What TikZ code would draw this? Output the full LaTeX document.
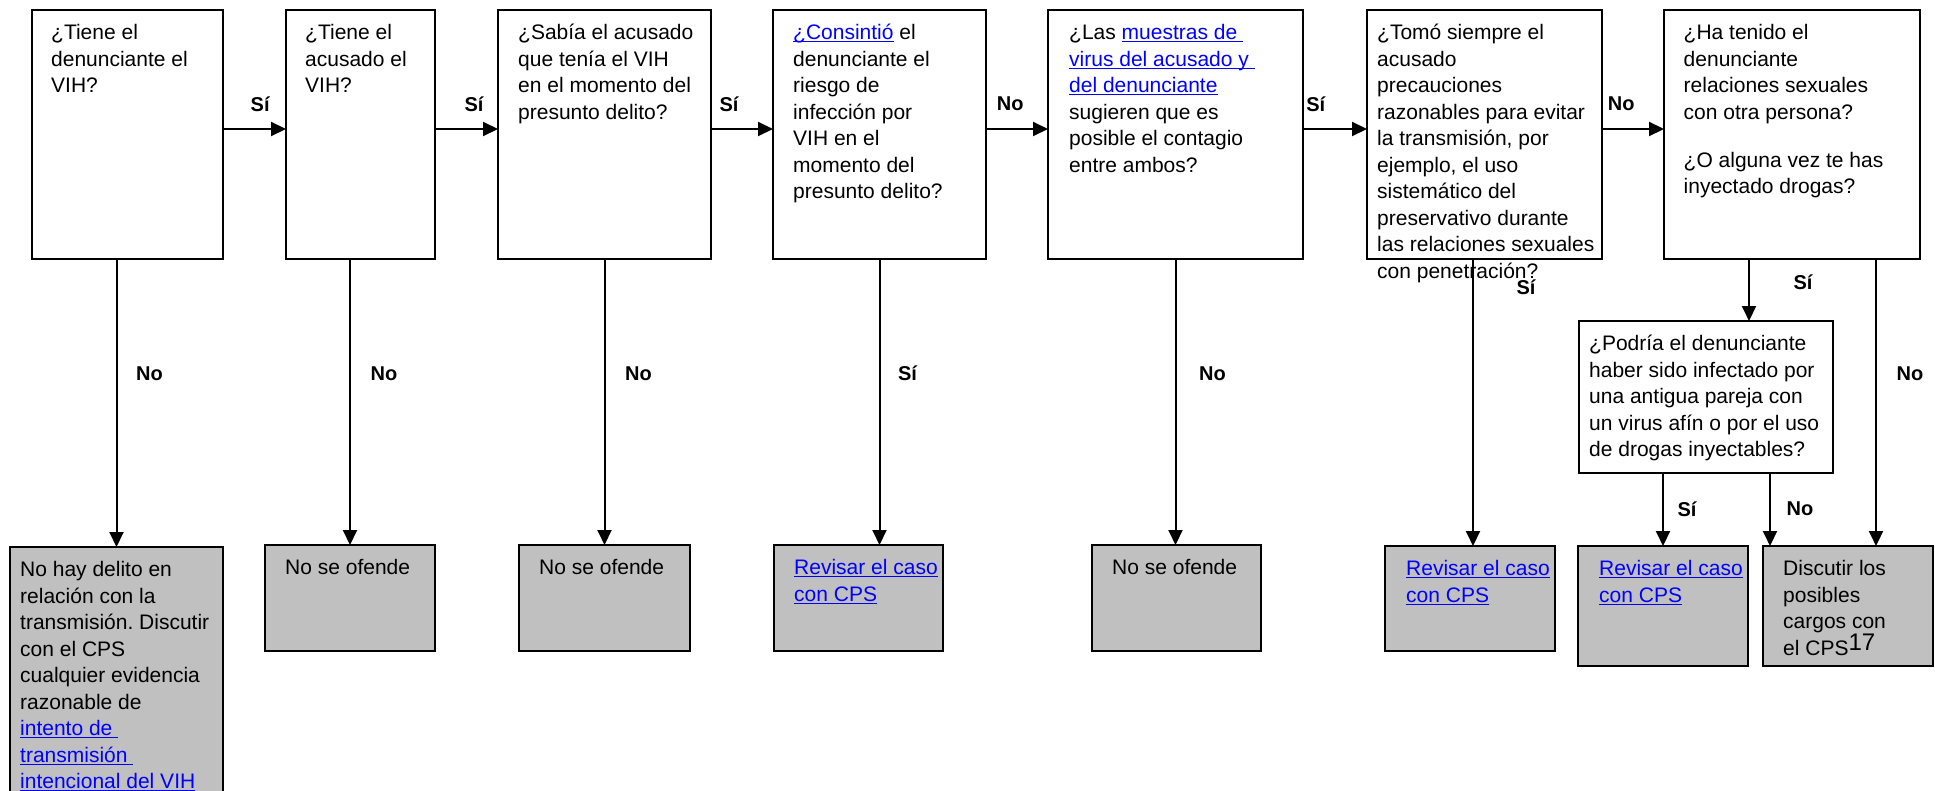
\documentclass[tikz,border=0pt]{standalone}
\usepackage{fontspec}
\setmainfont{Liberation Sans}
\usetikzlibrary{arrows.meta,calc}
\frenchspacing
\definecolor{linkblue}{RGB}{0,0,255}
\definecolor{boxgray}{RGB}{192,192,192}
\newcommand{\lnk}[1]{{\color{linkblue}\setbox0=\hbox{#1}\rlap{\rule[-2.6pt]{\wd0}{1.3pt}}\box0}}
\newcommand{\st}{\rule{0pt}{18pt}}
\begin{document}
\begin{tikzpicture}[x=1pt,y=-1pt,
  qbox/.style={draw, line width=2pt, fill=white, inner sep=0pt, outer sep=0pt, anchor=north west},
  ebox/.style={draw, line width=2.3pt, fill=boxgray, inner sep=0pt, outer sep=0pt, anchor=north west},
  txt/.style={inner sep=0pt, anchor=north west, align=left, font=\fontsize{21}{26.5}\selectfont},
  lbl/.style={inner sep=0pt, font=\fontsize{20}{22}\selectfont\bfseries},
  arr/.style={line width=2pt, -{Triangle[length=15pt,width=14pt]}}]
\useasboundingbox (0,0) rectangle (1935,790);
\fill[white] (0,0) rectangle (1935,790);
\clip (0,0) rectangle (1935,790);

% question boxes
\node[qbox, minimum width=191pt, minimum height=249pt] (b1) at (32,10) {};
\node[qbox, minimum width=149pt, minimum height=249pt] (b2) at (286,10) {};
\node[qbox, minimum width=213pt, minimum height=249pt] (b3) at (498,10) {};
\node[qbox, minimum width=213pt, minimum height=249pt] (b4) at (773,10) {};
\node[qbox, minimum width=255pt, minimum height=249pt] (b5) at (1048,10) {};
\node[qbox, minimum width=235pt, minimum height=249pt] (b6) at (1367,10) {};
\node[qbox, minimum width=256pt, minimum height=249pt] (b7) at (1664,10) {};
\node[qbox, minimum width=254pt, minimum height=152pt] (pod) at (1579,321) {};

% end boxes
\node[ebox, minimum width=213pt, minimum height=320pt] (e1) at (10,547) {};
\node[ebox, minimum width=170pt, minimum height=106pt] (e2) at (265,545) {};
\node[ebox, minimum width=171pt, minimum height=106pt] (e3) at (519,545) {};
\node[ebox, minimum width=169pt, minimum height=106pt] (e4) at (774,545) {};
\node[ebox, minimum width=169pt, minimum height=106pt] (e5) at (1092,545) {};
\node[ebox, minimum width=170pt, minimum height=105pt] (e6) at (1385,546) {};
\node[ebox, minimum width=170pt, minimum height=120pt] (e7) at (1578,546) {};
\node[ebox, minimum width=170pt, minimum height=120pt] (e8) at (1763,546) {};

% texts
\node[txt] (t1) at ([shift={(19,11.5)}]b1.north west) {\st¿Tiene el\\denunciante el\\VIH?};
\node[txt] (t2) at ([shift={(19,11.5)}]b2.north west) {\st¿Tiene el\\acusado el\\VIH?};
\node[txt] (t3) at ([shift={(20,11.5)}]b3.north west) {\st¿Sabía el acusado\\que tenía el VIH\\en el momento del\\presunto delito?};
\node[txt] (t4) at ([shift={(20,11.5)}]b4.north west) {\st\lnk{¿Consintió} el\\denunciante el\\riesgo de\\infección por\\VIH en el\\momento del\\presunto delito?};
\node[txt] (t5) at ([shift={(21,11.5)}]b5.north west) {\st¿Las \lnk{muestras de\ }\\\lnk{virus del acusado y\ }\\\lnk{del denunciante}\\sugieren que es\\posible el contagio\\entre ambos?};
\node[txt] (t6) at ([shift={(10,11.5)}]b6.north west) {\st¿Tomó siempre el\\acusado\\precauciones\\razonables para evitar\\la transmisión, por\\ejemplo, el uso\\sistemático del\\preservativo durante\\las relaciones sexuales\\con penetración?};
\node[txt] (t7) at ([shift={(19.5,11.5)}]b7.north west) {\st¿Ha tenido el\\denunciante\\relaciones sexuales\\con otra persona?\\[21.5pt]¿O alguna vez te has\\inyectado drogas?};
\node[txt] (tp) at ([shift={(10,11.5)}]pod.north west) {\st¿Podría el denunciante\\haber sido infectado por\\una antigua pareja con\\un virus afín o por el uso\\de drogas inyectables?};

\node[txt] (u1) at ([shift={(10,11.5)}]e1.north west) {\st No hay delito en\\relación con la\\transmisión. Discutir\\con el CPS\\cualquier evidencia\\razonable de\\\lnk{intento de\ }\\\lnk{transmisión\ }\\\lnk{intencional del VIH}};
\node[txt] (u2) at ([shift={(20,11.5)}]e2.north west) {\st No se ofende};
\node[txt] (u3) at ([shift={(20,11.5)}]e3.north west) {\st No se ofende};
\node[txt] (u4) at ([shift={(20,11.5)}]e4.north west) {\st\lnk{Revisar el caso}\\\lnk{con CPS}};
\node[txt] (u5) at ([shift={(20,11.5)}]e5.north west) {\st No se ofende};
\node[txt] (u6) at ([shift={(21,11.5)}]e6.north west) {\st\lnk{Revisar el caso}\\\lnk{con CPS}};
\node[txt] (u7) at ([shift={(21,11.5)}]e7.north west) {\st\lnk{Revisar el caso}\\\lnk{con CPS}};
\node[txt] (u8) at ([shift={(20,11.5)}]e8.north west) {\st Discutir los\\posibles\\cargos con\\el CPS\raisebox{5pt}{\fontsize{24}{24}\selectfont 17}};

% horizontal connectors
\draw[arr] ([yshift=5.5pt]b1.east) -- node[lbl, pos=.59, yshift=25pt] {Sí} ([yshift=5.5pt]b2.west);
\draw[arr] ([yshift=5.5pt]b2.east) -- node[lbl, pos=.62, yshift=25pt] {Sí} ([yshift=5.5pt]b3.west);
\draw[arr] ([yshift=5.5pt]b3.east) -- node[lbl, pos=.29, yshift=25pt] {Sí} ([yshift=5.5pt]b4.west);
\draw[arr] ([yshift=5.5pt]b4.east) -- node[lbl, pos=.39, yshift=25pt] {No} ([yshift=5.5pt]b5.west);
\draw[arr] ([yshift=5.5pt]b5.east) -- node[lbl, pos=.20, yshift=25pt] {Sí} ([yshift=5.5pt]b6.west);
\draw[arr] ([yshift=5.5pt]b6.east) -- node[lbl, pos=.31, yshift=25pt] {No} ([yshift=5.5pt]b7.west);

% vertical connectors
\coordinate (s6) at ([xshift=-11.5pt]b6.south);
\coordinate (s7a) at ([xshift=-43pt]b7.south);
\coordinate (s7b) at ([xshift=84pt]b7.south);
\coordinate (e8in) at ([xshift=7pt]e8.north west);
\draw[arr] (e1.north |- b1.south) -- node[lbl, pos=.40, xshift=33pt] {No} (e1.north);
\draw[arr] (e2.north |- b2.south) -- node[lbl, pos=.40, xshift=34pt] {No} (e2.north);
\draw[arr] (b3.south) -- node[lbl, pos=.40, xshift=34pt] {No} (b3.south |- e3.north);
\draw[arr] (b4.south) -- node[lbl, pos=.40, xshift=28pt] {Sí} (b4.south |- e4.north);
\draw[arr] (b5.south) -- node[lbl, pos=.40, xshift=37pt] {No} (b5.south |- e5.north);
\draw[arr] (s6) -- node[lbl, pos=.10, xshift=53pt] {Sí} (s6 |- e6.north);
\draw[arr] (s7a) -- node[lbl, pos=.38, xshift=54pt] {Sí} (s7a |- pod.north);
\draw[arr] (s7b) -- node[lbl, pos=.40, xshift=34pt] {No} (s7b |- e8.north);
\draw[arr] (e7.north |- pod.south) -- node[lbl, pos=.49, xshift=24pt] {Sí} (e7.north);
\draw[arr] (e8in |- pod.south) -- node[lbl, pos=.49, xshift=30pt] {No} (e8in);
\end{tikzpicture}
\end{document}
